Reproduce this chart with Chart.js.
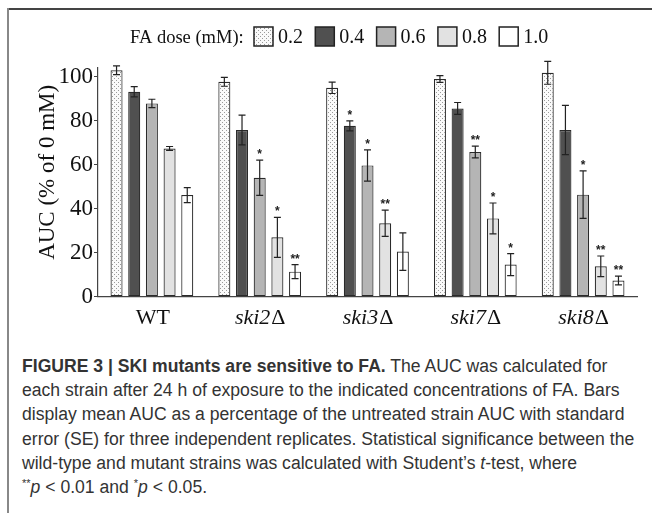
<!DOCTYPE html>
<html><head><meta charset="utf-8">
<script src="https://cdn.jsdelivr.net/npm/chart.js@4"></script>
<style>
html,body{margin:0;padding:0;background:#fff;width:652px;height:513px;overflow:hidden}
#frameTop{position:absolute;left:7px;top:8px;width:645px;height:2px;background:#444}
#frameLeft{position:absolute;left:7px;top:8px;width:2px;height:505px;background:#888}
#wrap{position:absolute;left:0;top:0;width:652px;height:340px}
#cap{position:absolute;left:22px;top:354px;width:630px;font-family:'Liberation Sans',Arial,sans-serif;font-size:17.6px;line-height:24.2px;color:#333}
#cap div{white-space:nowrap}
#cap sup{font-size:11px;vertical-align:6px;line-height:0}
</style></head>
<body>
<div id="frameTop"></div><div id="frameLeft"></div>
<div id="wrap"><canvas id="c" width="652" height="340"></canvas></div>
<div id="cap">
<div><b>FIGURE 3 | SKI mutants are sensitive to FA.</b> The AUC was calculated for</div>
<div>each strain after 24 h of exposure to the indicated concentrations of FA. Bars</div>
<div>display mean AUC as a percentage of the untreated strain AUC with standard</div>
<div>error (SE) for three independent replicates. Statistical significance between the</div>
<div>wild-type and mutant strains was calculated with Student’s <i>t</i>-test, where</div>
<div><sup>**</sup><i>p</i> &lt; 0.01 and <sup>*</sup><i>p</i> &lt; 0.05.</div>
</div>
<script>
const categories = ['WT','ski2Δ','ski3Δ','ski7Δ','ski8Δ'];
const doses = ['0.2','0.4','0.6','0.8','1.0'];
const auc02 = [103.0, 97.7, 95.0, 99.0, 101.8];
const auc04 = [93.2, 75.8, 77.7, 85.6, 75.8];
const auc06 = [87.9, 54.1, 59.7, 65.8, 46.4];
const auc08 = [67.4, 27.0, 33.4, 35.6, 13.8];
const auc10 = [46.2, 11.4, 20.5, 14.6, 7.4];
const se02 = [2.0, 2.0, 2.6, 1.5, 5.2];
const se04 = [2.3, 6.8, 2.3, 2.7, 11.2];
const se06 = [1.9, 8.0, 7.1, 2.7, 10.8];
const se08 = [0.9, 9.1, 6.0, 7.0, 4.7];
const se10 = [3.4, 3.2, 8.5, 5.0, 2.0];
const sig02 = ['', '', '', '', ''];
const sig04 = ['', '', '*', '', ''];
const sig06 = ['', '*', '*', '**', '*'];
const sig08 = ['', '*', '**', '*', '**'];
const sig10 = ['', '**', '', '*', '**'];
const yTicks = [0, 20, 40, 60, 80, 100];
const legendTitle = 'FA dose (mM):';
const yTitle = 'AUC (% of 0 mM)';

const values = [auc02, auc04, auc06, auc08, auc10];
const errors = [se02, se04, se06, se08, se10];
const sigs = [sig02, sig04, sig06, sig08, sig10];

// dotted pattern for 0.2
const pc = document.createElement('canvas'); pc.width = 4; pc.height = 4;
const pctx = pc.getContext('2d');
pctx.fillStyle = '#fafafa'; pctx.fillRect(0,0,4,4);
pctx.fillStyle = '#9a9a9a'; pctx.fillRect(0,0,1,1); pctx.fillRect(2,2,1,1);
const dotPattern = document.getElementById('c').getContext('2d').createPattern(pc, 'repeat');

const fills = [dotPattern, '#505050', '#b5b5b5', '#e2e2e2', '#ffffff'];
const serif = "'Liberation Serif','Times New Roman',serif";

const errPlugin = {
  id: 'errs',
  afterDatasetsDraw(chart) {
    const ctx = chart.ctx, ys = chart.scales.y;
    ctx.save();
    chart.data.datasets.forEach((ds, i) => {
      const meta = chart.getDatasetMeta(i);
      meta.data.forEach((el, j) => {
        const v = values[i][j], e = errors[i][j];
        const yt = ys.getPixelForValue(v + e), yb = ys.getPixelForValue(v - e);
        ctx.strokeStyle = '#222'; ctx.lineWidth = 1.2;
        ctx.beginPath();
        ctx.moveTo(el.x, yt); ctx.lineTo(el.x, yb);
        ctx.moveTo(el.x - 3.5, yt); ctx.lineTo(el.x + 3.5, yt);
        ctx.moveTo(el.x - 3.5, yb); ctx.lineTo(el.x + 3.5, yb);
        ctx.stroke();
        const s = sigs[i][j];
        if (s) {
          ctx.fillStyle = '#222';
          ctx.font = "bold 12px 'Liberation Sans',Arial,sans-serif";
          ctx.textAlign = 'center'; ctx.textBaseline = 'alphabetic';
          ctx.fillText(s, el.x, yt - 2);
        }
      });
    });
    ctx.restore();
  },
  afterDraw(chart) {
    const ctx = chart.ctx, xs = chart.scales.x, ys = chart.scales.y;
    ctx.save();
    // x labels
    ctx.fillStyle = '#111'; ctx.textBaseline = 'alphabetic';
    categories.forEach((lab, j) => {
      const cx = xs.getPixelForTick(j);
      let ital = '', up = lab;
      if (lab.endsWith('Δ')) { ital = lab.slice(0, -1); up = 'Δ'; }
      ctx.font = 'italic 22px ' + serif;
      const wi = ctx.measureText(ital).width;
      ctx.font = '22px ' + serif;
      const wu = ctx.measureText(up).width;
      let x0 = cx - (wi + wu) / 2;
      ctx.textAlign = 'left';
      if (ital) { ctx.font = 'italic 22px ' + serif; ctx.fillText(ital, x0, 324); }
      ctx.font = '22px ' + serif; ctx.fillText(up, x0 + wi + 1, 324);
    });
    // y title
    ctx.save();
    ctx.translate(48, (ys.top + ys.bottom) / 2 - 10);
    ctx.rotate(-Math.PI / 2);
    ctx.font = '23px ' + serif; ctx.textAlign = 'center'; ctx.textBaseline = 'middle';
    ctx.fillText(yTitle, 0, 0);
    ctx.restore();
    // legend
    ctx.font = '18.5px ' + serif; ctx.fillStyle = '#111'; ctx.textAlign = 'left';
    ctx.fillText(legendTitle, 130, 43);
    ctx.font = '20px ' + serif;
    doses.forEach((d, i) => {
      const bx = 254 + i * 61.3;
      ctx.fillStyle = fills[i];
      ctx.fillRect(bx, 27, 19, 19);
      ctx.strokeStyle = '#222'; ctx.lineWidth = 1.5;
      ctx.strokeRect(bx, 27, 19, 19);
      ctx.fillStyle = '#111';
      ctx.fillText(d, bx + 24, 43);
    });
    ctx.restore();
  }
};

new Chart(document.getElementById('c'), {
  type: 'bar',
  data: {
    labels: categories,
    datasets: doses.map((d, i) => ({
      label: d,
      data: values[i],
      backgroundColor: fills[i],
      borderColor: '#2a2a2a',
      borderWidth: 1.2,
      borderSkipped: false,
      barPercentage: 0.68,
      categoryPercentage: 0.82
    }))
  },
  options: {
    responsive: false,
    animation: false,
    layout: { padding: { left: 0, top: 68, right: 15, bottom: 0 } },
    plugins: { legend: { display: false }, tooltip: { enabled: false } },
    scales: {
      x: {
        grid: { display: false },
        border: { display: true, color: '#444', width: 1.2 },
        ticks: { display: false },
        afterFit(s) { s.height = 43.3; }
      },
      y: {
        min: 0, max: 104,
        afterBuildTicks(s) { s.ticks = yTicks.map(v => ({ value: v })); },
        grid: { drawOnChartArea: false, drawTicks: true, tickLength: 4, color: '#444' },
        border: { display: true, color: '#444', width: 1.2 },
        ticks: { padding: 1, color: '#111', font: { family: serif, size: 23 } },
        title: { display: false },
        afterFit(s) { s.width = 98; }
      }
    }
  },
  plugins: [errPlugin]
});
</script>
</body></html>
